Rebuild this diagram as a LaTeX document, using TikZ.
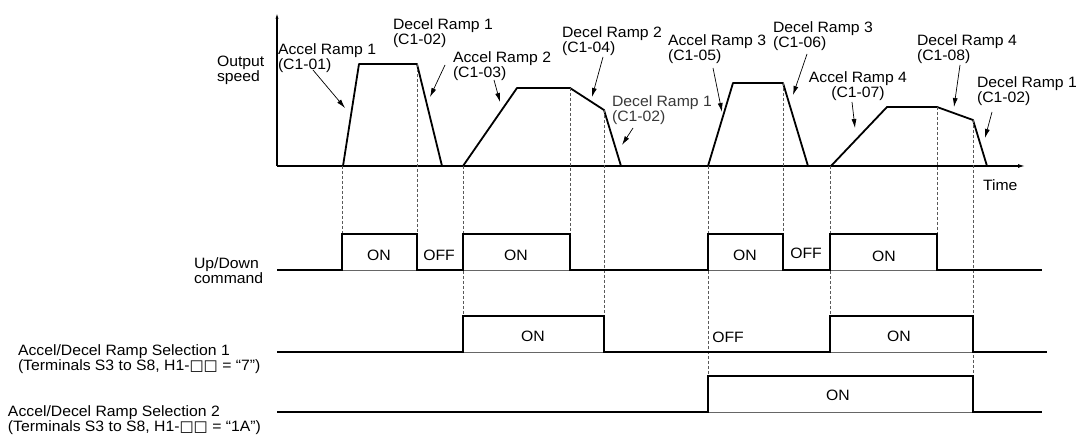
\documentclass[tikz,border=0pt]{standalone}
\usepackage{fontspec}
\setmainfont[FakeStretch=1.05]{Liberation Sans}
\newfontfamily\symfont{DejaVu Sans}
\newcommand{\wsq}{{\symfont\fontsize{15}{15}\selectfont □□}}
\usetikzlibrary{arrows.meta}
\begin{document}
\begin{tikzpicture}[x=1pt,y=-1pt,
  lbl/.style={font=\fontsize{15}{13}\selectfont, inner sep=0pt, outer sep=0pt, align=left, anchor=north west},
  lblc/.style={lbl, align=center, anchor=north},
  onoff/.style={font=\fontsize{15}{15}\selectfont, inner sep=0pt, anchor=center},
  sig/.style={line width=1.7pt, line join=miter},
  thinbase/.style={line width=0.5pt, black!60},
  guide/.style={dash pattern=on 3pt off 2pt, line width=0.5pt, black!65},
  prof/.style={line width=1.8pt, line join=round},
  axisline/.style={line width=1.2pt},
  ptr/.style={line width=0.7pt, -{Latex[length=9pt,width=5pt]}},
]
\useasboundingbox[fill=white] (0,0) rectangle (1077,435);

% ---------- axes ----------
\coordinate (O) at (277,166);
\coordinate (ytop) at (277,12);
\coordinate (xend) at (1025,166);
\draw[axisline,-{Latex[length=7pt,width=3pt]}] (O) -- (ytop);
\draw[axisline,-{Latex[length=7pt,width=4pt]}] (O) -- (xend);

% ---------- speed profile ----------
\draw[prof] (O) -- (343,166) -- (359,64) -- (417,64) -- (442,166) -- (463,166)
  -- (517,88) -- (570,88) -- (604,110) -- (621,166) -- (708,166)
  -- (733,83) -- (783,83) -- (808,166) -- (831,166)
  -- (887,107) -- (937,107) -- (973,120) -- (987,166) -- (1010,166);

% ---------- dashed guides ----------
\draw[guide] (342,166) -- (342,234);
\draw[guide] (417,64) -- (417,234);
\draw[guide] (463,166) -- (463,316);
\draw[guide] (570,88) -- (570,234);
\draw[guide] (604,110) -- (604,316);
\draw[guide] (708,166) -- (708,376);
\draw[guide] (783,83) -- (783,234);
\draw[guide] (830,166) -- (830,316);
\draw[guide] (937,107) -- (937,234);
\draw[guide] (973,120) -- (973,376);

% ---------- timing signals ----------
\draw[thinbase] (277,270) -- (1042,270);
\draw[sig] (277,270) -- (342,270) -- (342,234) -- (417,234) -- (417,270) -- (463,270)
  -- (463,234) -- (570,234) -- (570,270) -- (708,270) -- (708,234) -- (783,234)
  -- (783,270) -- (830,270) -- (830,234) -- (937,234) -- (937,270) -- (1042,270);

\draw[thinbase] (277,352) -- (1047,352);
\draw[sig] (277,352) -- (463,352) -- (463,316) -- (604,316) -- (604,352) -- (830,352)
  -- (830,316) -- (973,316) -- (973,352) -- (1047,352);

\draw[thinbase] (277,412) -- (1042,412);
\draw[sig] (277,412) -- (708,412) -- (708,376) -- (973,376) -- (973,412) -- (1042,412);

% ---------- ON / OFF ----------
\node[onoff] (u1) at (379,255) {ON};
\node[onoff] (u2) at (439,255) {OFF};
\node[onoff] (u3) at (516,255) {ON};
\node[onoff] (u4) at (745,255) {ON};
\node[onoff] (u5) at (806,253) {OFF};
\node[onoff] (u6) at (884,256) {ON};
\node[onoff] (s1) at (533,336) {ON};
\node[onoff] (s2) at (728,337) {OFF};
\node[onoff] (s3) at (899,336) {ON};
\node[onoff] (t1) at (838,395) {ON};

% ---------- left labels ----------
\node[lbl] (outspd) at (217,56) {Output\\speed};
\node[lbl, font=\fontsize{15}{15}\selectfont] (updown) at (194,258) {Up/Down\\command};
\node[lbl, font=\fontsize{15}{14.5}\selectfont] (sel1) at (18,345) {Accel/Decel Ramp Selection 1\\(Terminals S3 to S8, H1-\wsq{} = “7”)};
\node[lbl, font=\fontsize{15}{14.5}\selectfont] (sel2) at (8,406) {Accel/Decel Ramp Selection 2\\(Terminals S3 to S8, H1-\wsq{} = “1A”)};
\node[lbl] (time) at (983,180) {Time};

% ---------- ramp labels ----------
\node[lbl] (a1) at (278,44) {Accel Ramp 1\\(C1-01)};
\node[lbl] (d1) at (393,19) {Decel Ramp 1\\(C1-02)};
\node[lbl] (a2) at (453,52) {Accel Ramp 2\\(C1-03)};
\node[lbl] (d2) at (562,27) {Decel Ramp 2\\(C1-04)};
\node[lbl, text=black!78] (d1b) at (612,96) {Decel Ramp 1\\(C1-02)};
\node[lbl] (a3) at (668,35) {Accel Ramp 3\\(C1-05)};
\node[lbl] (d3) at (773,22) {Decel Ramp 3\\(C1-06)};
\node[lblc] (a4) at (858,72) {Accel Ramp 4\\(C1-07)};
\node[lbl] (d4) at (917,35) {Decel Ramp 4\\(C1-08)};
\node[lbl] (d1c) at (977,77) {Decel Ramp 1\\(C1-02)};

% ---------- pointer arrows ----------
\coordinate (a1s) at (313,70);  \coordinate (a1t) at (345,108);
\coordinate (d1s) at (445,65);  \coordinate (d1t) at (430,97);
\coordinate (a2s) at (494,80);  \coordinate (a2t) at (500,102);
\coordinate (d2s) at (603,57);  \coordinate (d2t) at (592,97);
\coordinate (d1bs) at (633,128); \coordinate (d1bt) at (622,145);
\coordinate (a3s) at (713,68);  \coordinate (a3t) at (722,112);
\coordinate (d3s) at (807,54);  \coordinate (d3t) at (793,95);
\coordinate (a4s) at (852,102); \coordinate (a4t) at (855,128);
\coordinate (d4s) at (960,65);  \coordinate (d4t) at (954,107);
\coordinate (d1cs) at (992,112); \coordinate (d1ct) at (985,138);
\foreach \p in {a1,d1,a2,d2,d1b,a3,d3,a4,d4,d1c}{
  \draw[ptr] (\p s) -- (\p t);
}
\end{tikzpicture}
\end{document}
